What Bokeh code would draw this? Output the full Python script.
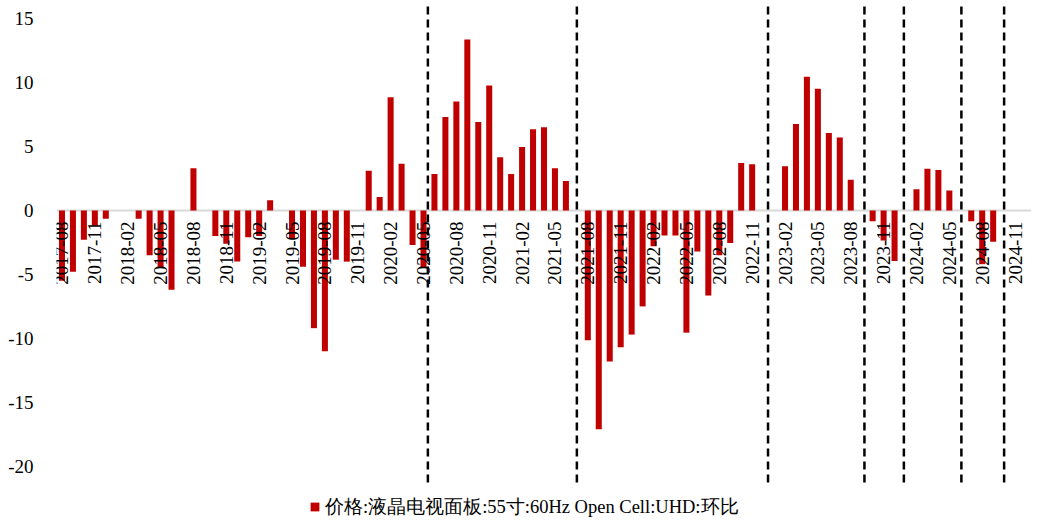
import math
import pandas as pd
from bokeh.plotting import figure
from bokeh.models import (ColumnDataSource, Range1d, FixedTicker, Span,
                          Legend, LegendItem)
from bokeh.core.properties import value
from bokeh.embed import file_html
from bokeh.resources import INLINE

# Monthly periods, 2017-08 .. 2024-12
months = [m.strftime("%Y-%m") for m in pd.period_range("2017-08", "2024-12", freq="M")]

# Month-on-month change (%) of the 55" 60Hz Open Cell UHD TV panel price
mom_change = [
    -5.5, -4.8, -2.3, -1.2, -0.65,                  # 2017-08 .. 2017-12
    0.0, 0.0, -0.65, -3.5, -4.5, -6.2,              # 2018-01 .. 2018-06
    0.0, 3.3, 0.0, -2.0, -2.6, -4.0,                # 2018-07 .. 2018-12
    -2.1, -2.0, 0.8, 0.0, -2.2, -4.4,               # 2019-01 .. 2019-06
    -9.2, -11.0, -3.85, -4.0, 0.0, 3.1,             # 2019-07 .. 2019-12
    1.05, 8.85, 3.65, -2.7, -4.5, 2.85,             # 2020-01 .. 2020-06
    7.3, 8.5, 13.35, 6.9, 9.75, 4.15,               # 2020-07 .. 2020-12
    2.85, 4.95, 6.35, 6.5, 3.3, 2.3,                # 2021-01 .. 2021-06
    0.0, -10.15, -17.1, -11.8, -10.7, -9.7,         # 2021-07 .. 2021-12
    -7.5, -2.8, -1.95, -1.95, -9.55, -3.2,          # 2022-01 .. 2022-06
    -6.65, -3.5, -2.55, 3.7, 3.6, 0.0,              # 2022-07 .. 2022-12
    0.0, 3.45, 6.75, 10.45, 9.5, 6.05,              # 2023-01 .. 2023-06
    5.7, 2.4, 0.0, -0.85, -2.35, -3.95,             # 2023-07 .. 2023-12
    0.0, 1.65, 3.25, 3.15, 1.55, 0.0,               # 2024-01 .. 2024-06
    -0.85, -4.2, -2.45, 0.0, 0.0, 0.0,              # 2024-07 .. 2024-12
]

# Category labels shown on the axis (every third month)
tick_labels = months[0::3][:30]

y_ticks = [-20, -15, -10, -5, 0, 5, 10, 15]
y_tick_text = ["-20", "-15", "-10", "-5", "0", "5", "10", "15"]

# Cycle separators, in month-index units
divider_pos = [33.4, 47.0, 64.45, 73.25, 76.85, 82.1, 86.0]

legend_label = "价格:液晶电视面板:55寸:60Hz Open Cell:UHD:环比"

BAR_RED = "#C00000"
FONT = "Liberation Serif"

idx = list(range(len(months)))
src = ColumnDataSource(dict(x=idx, month=months, v=mom_change))

p = figure(width=1040, height=523,
           x_range=Range1d(-0.5, 88.5), y_range=Range1d(-24.46, 16.4),
           output_backend="svg", toolbar_location=None,
           x_axis_location=None,
           min_border_left=56, min_border_right=9,
           min_border_top=0, min_border_bottom=0)
p.outline_line_color = None
p.grid.visible = False
p.background_fill_color = "white"

# y axis: labels only, plain hyphen for negatives
yax = p.yaxis[0]
yax.ticker = FixedTicker(ticks=y_ticks)
yax.major_label_overrides = {t: s for t, s in zip(y_ticks, y_tick_text)}
yax.axis_line_color = None
yax.major_tick_line_color = None
yax.minor_tick_line_color = None
yax.major_label_text_font = FONT
yax.major_label_text_font_size = "19px"
yax.major_label_text_color = "#000000"
yax.major_label_standoff = 17

# zero baseline
p.add_layout(Span(location=0, dimension="width", line_color="#d9d9d9",
                  line_width=2, level="underlay"))

bars = p.vbar(x="x", top="v", bottom=0, width=0.55, source=src,
              fill_color=BAR_RED, line_color=None)

# month labels hanging below the zero line
tick_idx = [months.index(t) for t in tick_labels]
lab_src = ColumnDataSource(dict(x=tick_idx, y=[0] * len(tick_idx), t=tick_labels))
p.text(x="x", y="y", text="t", source=lab_src, angle=math.pi / 2,
       text_align="right", text_baseline="middle", y_offset=11,
       text_font=value(FONT), text_font_size="19px", text_color="#000000")

# dashed cycle separators
p.segment(x0=divider_pos, x1=divider_pos,
          y0=[-21.25] * len(divider_pos), y1=[16.0] * len(divider_pos),
          line_color="black", line_width=2.5, line_dash="8 5")

legend = Legend(items=[LegendItem(label=legend_label, renderers=[bars])],
                location=(253, 4), orientation="horizontal",
                padding=0, margin=0, spacing=0,
                border_line_color=None, background_fill_alpha=0,
                glyph_width=11, glyph_height=11, label_standoff=5,
                label_text_font=FONT, label_text_font_size="18.5px",
                label_text_color="#000000")
p.add_layout(legend)

open("out.html", "w").write(file_html(p, INLINE))
